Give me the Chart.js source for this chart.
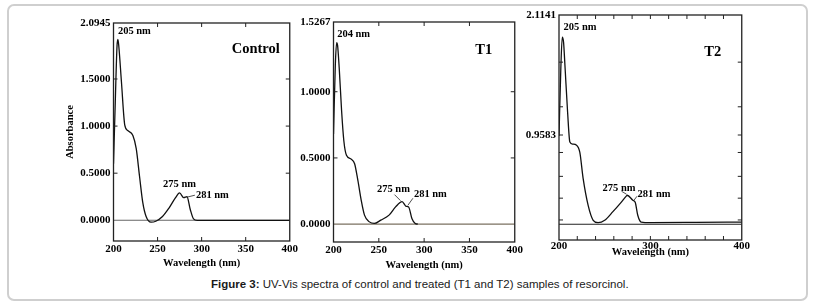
<!DOCTYPE html>
<html><head><meta charset="utf-8">
<script src="https://cdn.jsdelivr.net/npm/chart.js@4"></script>
<style>
html,body{margin:0;padding:0;background:#fff}
body{width:819px;height:306px;position:relative;overflow:hidden}
#frame{position:absolute;left:7px;top:4px;width:801px;height:297px;border:2px solid #cfcfcf;border-radius:7px;box-sizing:border-box}
.cv{position:absolute}
#cap{position:absolute;left:211px;top:278px;font:11.5px "Liberation Sans",Arial,sans-serif;color:#1a1a1a;white-space:nowrap}
</style></head>
<body>
<div id="frame"></div>
<canvas id="c1" class="cv" style="left:60px;top:10px" width="240" height="264"></canvas>
<canvas id="c2" class="cv" style="left:290px;top:10px" width="235" height="266"></canvas>
<canvas id="c3" class="cv" style="left:510px;top:5px" width="240" height="258"></canvas>
<div id="cap"><b>Figure 3:</b> UV-Vis spectra of control and treated (T1 and T2) samples of resorcinol.</div>
<script>
// ---------- DATA ----------
const ctrlWavelength = [200,202,204,205,206,209,212.8,216.5,222,225.8,229.5,233.2,237,242.6,248,255.6,263,270.4,275,279.7,283.4,287.1,290.8,295,320,350,400];
const ctrlAbsorbance = [0.6,1.25,1.85,1.92,1.85,1.47,1.01,0.95,0.90,0.76,0.47,0.19,0.04,-0.02,-0.01,0.04,0.13,0.24,0.29,0.24,0.25,0.115,0.015,0.0,0.0,0.0,0.0];
const t1Wavelength = [200,202,203.5,204.5,206.3,208.9,211.4,214.3,219.7,223.3,226.9,230.6,234.2,239.6,245,252.2,261.3,268.5,275.7,280,282.9,286.5,290.2,293];
const t1Absorbance = [0.68,1.2,1.37,1.35,1.18,0.86,0.63,0.52,0.49,0.456,0.33,0.18,0.068,0.017,0.005,0.03,0.068,0.13,0.17,0.135,0.13,0.043,0.005,0.0];
const t2Wavelength = [200,202,203.6,205,206.5,209.4,211.9,215,219.2,222.8,226.4,231.9,237.4,242.8,250,259,268,273.6,274.7,280.8,283.4,286.2,289.9,300,350,400];
const t2Absorbance = [0.95,1.6,1.90,1.85,1.63,1.18,0.89,0.87,0.86,0.79,0.54,0.28,0.137,0.114,0.137,0.22,0.31,0.37,0.378,0.33,0.31,0.185,0.12,0.115,0.117,0.12];

const baseWavelength = [200,400];
const ctrlBase = [0,0];
const t1Base = [0,0];
const t2Base = [0.098,0.098];

const ctrlYTicks = [0,0.5,1.0,1.5,2.0945];
const t1YTicks = [0,0.5,1.0,1.5267];
const t2YTicks = [0.9583,2.1141];
const xTicks5 = [200,250,300,350,400];
const xTicks3 = [200,300,400];
const t2YMinor = [0.14,0.35,0.56,0.79,1.23,1.66];
const t2XMinor = [220,240,260,280,300,320,340,360,380];

const ctrlPeakNm = [205,275,281], ctrlPeakAbs = [1.92,0.29,0.245];
const t1PeakNm = [204,275,281], t1PeakAbs = [1.37,0.17,0.135];
const t2PeakNm = [205,275,281], t2PeakAbs = [1.90,0.378,0.33];
const peakText = n => n + ' nm';

// ---------- HELPERS ----------
const SERIF = '"Liberation Serif","Times New Roman",serif';
const pts = (xs, ys) => xs.map((x, i) => ({x, y: ys[i]}));

const deco = {
  id: 'deco',
  afterDatasetsDraw(chart, args, o) {
    const {ctx, chartArea: a, scales: {x, y}} = chart;
    ctx.save();
    const line = (x1, y1, x2, y2) => { ctx.beginPath(); ctx.moveTo(x1, y1); ctx.lineTo(x2, y2); ctx.stroke(); };
    ctx.strokeStyle = o.boxColor; ctx.lineWidth = o.boxWidth;
    ctx.strokeRect(a.left, a.top, a.right - a.left, a.bottom - a.top);
    ctx.lineWidth = 1; ctx.strokeStyle = '#222';
    const L = 4;
    for (const v of o.xInner) { const px = x.getPixelForValue(v); line(px, a.bottom, px, a.bottom - L); line(px, a.top, px, a.top + L); }
    for (const v of o.yInner) { const py = y.getPixelForValue(v); line(a.left, py, a.left + L, py); line(a.right, py, a.right - L, py); }
    // panel title
    ctx.fillStyle = '#000'; ctx.font = 'bold 14.5px ' + SERIF; ctx.textAlign = 'center'; ctx.textBaseline = 'middle';
    ctx.fillText(o.title, a.right + o.titleDx, a.top + o.titleDy);
    // peak labels
    ctx.font = 'bold 10.5px ' + SERIF;
    o.peakNm.forEach((nm, i) => {
      const px = x.getPixelForValue(nm), py = y.getPixelForValue(o.peakAbs[i]);
      const p = o.place[i];
      ctx.textAlign = p.align;
      ctx.fillText(peakText(nm), px + p.dx, py + p.dy);
      if (p.lead) { ctx.lineWidth = 0.8; line(px + p.lead[0], py + p.lead[1], px + p.lead[2], py + p.lead[3]); }
    });
    ctx.restore();
  }
};

function makeChart(id, cfg) {
  return new Chart(document.getElementById(id), {
    type: 'line',
    data: { datasets: [
      { data: pts(cfg.wl, cfg.ab), borderColor: '#111', borderWidth: 1.3, pointRadius: 0, cubicInterpolationMode: 'monotone', fill: false },
      { data: pts(baseWavelength, cfg.base), borderColor: cfg.baseColor, borderWidth: 1.1, pointRadius: 0, fill: false }
    ]},
    options: {
      responsive: false, animation: false, events: [],
      layout: { padding: { top: cfg.padTop, right: cfg.padRight, left: 0, bottom: 0 } },
      plugins: { legend: { display: false }, tooltip: { enabled: false },
        deco: { boxColor: '#222', boxWidth: 1.3, xInner: cfg.xInner, yInner: cfg.yInner, title: cfg.title, titleDx: cfg.titleDx, titleDy: cfg.titleDy,
          peakNm: cfg.peakNm, peakAbs: cfg.peakAbs, place: cfg.place } },
      scales: {
        x: { type: 'linear', min: 200, max: 400,
          afterBuildTicks: s => { s.ticks = cfg.xTicks.map(v => ({value: v})); },
          afterFit: s => { s.height = cfg.xH; },
          grid: { display: false, drawTicks: false }, border: { display: false },
          ticks: { autoSkip: false, maxRotation: 0, padding: cfg.xPad, color: '#000', font: { family: SERIF, size: 11, weight: 'bold' }, callback: v => String(v) },
          title: { display: true, text: 'Wavelength (nm)', color: '#000', font: { family: SERIF, size: 10.5, weight: 'bold' } } },
        y: { type: 'linear', min: cfg.yMin, max: cfg.yMax,
          afterBuildTicks: s => { s.ticks = cfg.yTicks.map(v => ({value: v})); },
          afterFit: s => { s.width = cfg.yW; },
          grid: { display: false, drawTicks: false }, border: { display: false },
          ticks: { autoSkip: false, padding: 3, color: '#000', font: { family: SERIF, size: 11, weight: 'bold' }, callback: v => Number(v).toFixed(4) },
          title: { display: cfg.yTitle, text: 'Absorbance', color: '#000', font: { family: SERIF, size: 10.5, weight: 'bold' } } }
      }
    },
    plugins: [deco]
  });
}

makeChart('c1', { wl: ctrlWavelength, ab: ctrlAbsorbance, base: ctrlBase, baseColor: '#666',
  padTop: 13, padRight: 7, yW: 53.5, xH: 33, xPad: 2, yMin: -0.22, yMax: 2.0945, yTicks: ctrlYTicks, xTicks: xTicks5, yTitle: true,
  xInner: [250,300,350], yInner: [0.5,1.0,1.5], title: 'Control', titleDx: -34, titleDy: 26,
  peakNm: ctrlPeakNm, peakAbs: ctrlPeakAbs,
  place: [ {dx: 0, dy: -8, align: 'left'}, {dx: 0, dy: -9, align: 'center'}, {dx: 11, dy: -2, align: 'left', lead: [2, 0, 10, -2]} ] });

makeChart('c2', { wl: t1Wavelength, ab: t1Absorbance, base: t1Base, baseColor: '#7a7060',
  padTop: 12, padRight: 7, yW: 43.5, xH: 34, xPad: 2, yMin: -0.135, yMax: 1.5267, yTicks: t1YTicks, xTicks: xTicks5, yTitle: false,
  xInner: [250,300,350], yInner: [0.5,1.0], title: 'T1', titleDx: -31, titleDy: 28,
  peakNm: t1PeakNm, peakAbs: t1PeakAbs,
  place: [ {dx: 0, dy: -8, align: 'left'}, {dx: -8, dy: -12.5, align: 'center', lead: [-1, -1, -7, -7]}, {dx: 7, dy: -12, align: 'left', lead: [1, -1, 6, -8]} ] });

makeChart('c3', { wl: t2Wavelength, ab: t2Absorbance, base: t2Base, baseColor: '#222',
  padTop: 10, padRight: 7, yW: 49, xH: 23, xPad: 0, yMin: -0.053, yMax: 2.1141, yTicks: t2YTicks, xTicks: xTicks3, yTitle: false,
  xInner: t2XMinor, yInner: t2YMinor.concat([0.9583]), title: 'T2', titleDx: -29, titleDy: 37,
  peakNm: t2PeakNm, peakAbs: t2PeakAbs,
  place: [ {dx: 0, dy: -10, align: 'left'}, {dx: -8.5, dy: -7.3, align: 'center', lead: [-1, -1, -6, -4]}, {dx: 4.5, dy: -6, align: 'left', lead: [1, 0, 4, -4]} ] });
</script>
</body></html>
